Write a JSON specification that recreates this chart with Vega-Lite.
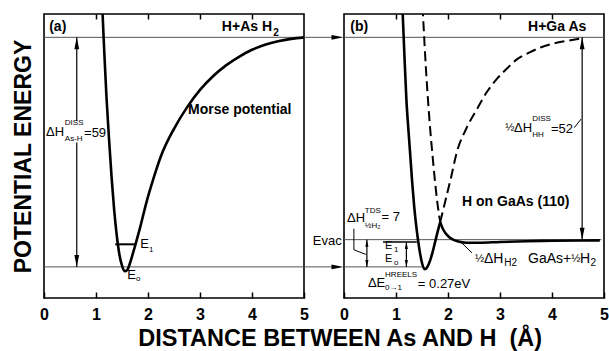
{
  "$schema": "https://vega.github.io/schema/vega-lite/v6.json",
  "background": "white",
  "padding": {"left": 11, "top": 12, "right": 0, "bottom": 0},
  "bounds": "flush",
  "spacing": 40,
  "title": {"text": "DISTANCE BETWEEN As AND H \u00a0(Å)", "orient": "bottom", "anchor": "middle", "font": "Liberation Sans", "fontSize": 23.5, "fontWeight": "bold", "color": "black", "offset": 4, "dx": 30},
  "config": {"view": {"stroke": "black", "strokeWidth": 1.6}},
  "datasets": {
    "curves": [
      {"panel": "a", "curve": "a_morse", "x": 1.12, "y": 67}, {"panel": "a", "curve": "a_morse", "x": 1.16, "y": 55}, {"panel": "a", "curve": "a_morse", "x": 1.2, "y": 44}, {"panel": "a", "curve": "a_morse", "x": 1.25, "y": 33}, {"panel": "a", "curve": "a_morse", "x": 1.3, "y": 23}, {"panel": "a", "curve": "a_morse", "x": 1.35, "y": 14.5}, {"panel": "a", "curve": "a_morse", "x": 1.4, "y": 8}, {"panel": "a", "curve": "a_morse", "x": 1.45, "y": 3.2}, {"panel": "a", "curve": "a_morse", "x": 1.5, "y": 0.3}, {"panel": "a", "curve": "a_morse", "x": 1.55, "y": -1.1}, {"panel": "a", "curve": "a_morse", "x": 1.6, "y": -0.8}, {"panel": "a", "curve": "a_morse", "x": 1.65, "y": 0.8}, {"panel": "a", "curve": "a_morse", "x": 1.7, "y": 3.0}, {"panel": "a", "curve": "a_morse", "x": 1.76, "y": 5.8}, {"panel": "a", "curve": "a_morse", "x": 1.85, "y": 10.2}, {"panel": "a", "curve": "a_morse", "x": 1.97, "y": 16.6}, {"panel": "a", "curve": "a_morse", "x": 2.1, "y": 22.5}, {"panel": "a", "curve": "a_morse", "x": 2.25, "y": 28.5}, {"panel": "a", "curve": "a_morse", "x": 2.5, "y": 35.5}, {"panel": "a", "curve": "a_morse", "x": 2.75, "y": 41}, {"panel": "a", "curve": "a_morse", "x": 3.0, "y": 45.5}, {"panel": "a", "curve": "a_morse", "x": 3.25, "y": 49}, {"panel": "a", "curve": "a_morse", "x": 3.5, "y": 51.8}, {"panel": "a", "curve": "a_morse", "x": 3.75, "y": 54}, {"panel": "a", "curve": "a_morse", "x": 4.0, "y": 55.8}, {"panel": "a", "curve": "a_morse", "x": 4.25, "y": 57.1}, {"panel": "a", "curve": "a_morse", "x": 4.5, "y": 58}, {"panel": "a", "curve": "a_morse", "x": 4.75, "y": 58.6}, {"panel": "a", "curve": "a_morse", "x": 5.0, "y": 59},
      {"panel": "b", "curve": "b_well", "x": 1.12, "y": 68}, {"panel": "b", "curve": "b_well", "x": 1.16, "y": 55}, {"panel": "b", "curve": "b_well", "x": 1.2, "y": 43}, {"panel": "b", "curve": "b_well", "x": 1.24, "y": 35}, {"panel": "b", "curve": "b_well", "x": 1.27, "y": 29.5}, {"panel": "b", "curve": "b_well", "x": 1.31, "y": 22}, {"panel": "b", "curve": "b_well", "x": 1.35, "y": 15.5}, {"panel": "b", "curve": "b_well", "x": 1.4, "y": 9.3}, {"panel": "b", "curve": "b_well", "x": 1.45, "y": 4.5}, {"panel": "b", "curve": "b_well", "x": 1.5, "y": 1.0}, {"panel": "b", "curve": "b_well", "x": 1.55, "y": -0.6}, {"panel": "b", "curve": "b_well", "x": 1.6, "y": -0.1}, {"panel": "b", "curve": "b_well", "x": 1.65, "y": 1.4}, {"panel": "b", "curve": "b_well", "x": 1.7, "y": 3.6}, {"panel": "b", "curve": "b_well", "x": 1.75, "y": 6.3}, {"panel": "b", "curve": "b_well", "x": 1.8, "y": 9.0}, {"panel": "b", "curve": "b_well", "x": 1.85, "y": 11.5},
      {"panel": "b", "curve": "b_tail", "x": 1.85, "y": 11.5}, {"panel": "b", "curve": "b_tail", "x": 1.9, "y": 9.8}, {"panel": "b", "curve": "b_tail", "x": 1.95, "y": 8.7}, {"panel": "b", "curve": "b_tail", "x": 2.02, "y": 7.7}, {"panel": "b", "curve": "b_tail", "x": 2.1, "y": 7.0}, {"panel": "b", "curve": "b_tail", "x": 2.2, "y": 6.5}, {"panel": "b", "curve": "b_tail", "x": 2.35, "y": 6.2}, {"panel": "b", "curve": "b_tail", "x": 2.6, "y": 6.2}, {"panel": "b", "curve": "b_tail", "x": 3.0, "y": 6.4}, {"panel": "b", "curve": "b_tail", "x": 3.5, "y": 6.6}, {"panel": "b", "curve": "b_tail", "x": 4.0, "y": 6.7}, {"panel": "b", "curve": "b_tail", "x": 4.92, "y": 6.8},
      {"panel": "b", "curve": "b_hh_left", "x": 1.51, "y": 67}, {"panel": "b", "curve": "b_hh_left", "x": 1.53, "y": 62}, {"panel": "b", "curve": "b_hh_left", "x": 1.55, "y": 57}, {"panel": "b", "curve": "b_hh_left", "x": 1.58, "y": 50}, {"panel": "b", "curve": "b_hh_left", "x": 1.62, "y": 42}, {"panel": "b", "curve": "b_hh_left", "x": 1.66, "y": 35}, {"panel": "b", "curve": "b_hh_left", "x": 1.7, "y": 29}, {"panel": "b", "curve": "b_hh_left", "x": 1.75, "y": 22}, {"panel": "b", "curve": "b_hh_left", "x": 1.8, "y": 16}, {"panel": "b", "curve": "b_hh_left", "x": 1.85, "y": 11.5},
      {"panel": "b", "curve": "b_hh_right", "x": 1.85, "y": 11.5}, {"panel": "b", "curve": "b_hh_right", "x": 1.95, "y": 17}, {"panel": "b", "curve": "b_hh_right", "x": 2.05, "y": 22.5}, {"panel": "b", "curve": "b_hh_right", "x": 2.17, "y": 29.5}, {"panel": "b", "curve": "b_hh_right", "x": 2.35, "y": 35.5}, {"panel": "b", "curve": "b_hh_right", "x": 2.56, "y": 40.6}, {"panel": "b", "curve": "b_hh_right", "x": 2.75, "y": 45}, {"panel": "b", "curve": "b_hh_right", "x": 2.94, "y": 48.3}, {"panel": "b", "curve": "b_hh_right", "x": 3.15, "y": 51.2}, {"panel": "b", "curve": "b_hh_right", "x": 3.33, "y": 53.4}, {"panel": "b", "curve": "b_hh_right", "x": 3.55, "y": 55}, {"panel": "b", "curve": "b_hh_right", "x": 3.78, "y": 56.4}, {"panel": "b", "curve": "b_hh_right", "x": 4.0, "y": 57.3}, {"panel": "b", "curve": "b_hh_right", "x": 4.29, "y": 58.1}, {"panel": "b", "curve": "b_hh_right", "x": 4.55, "y": 58.7}
    ],
    "levels": [
      {"panel": "a", "x": 0, "x2": 5.62, "y": 59},
      {"panel": "a", "x": 0, "x2": 5.62, "y": 0},
      {"panel": "b", "x": 0, "x2": 5, "y": 59},
      {"panel": "b", "x": 0, "x2": 4.95, "y": 7},
      {"panel": "b", "x": 0, "x2": 1.5, "y": 0}
    ],
    "e1": [
      {"panel": "a", "x": 1.37, "x2": 1.76, "y": 5.8},
      {"panel": "b", "x": 0.75, "x2": 1.4, "y": 6.4}
    ],
    "vlines": [
      {"panel": "a", "x": 0.63, "y": 37.5, "y2": 59},
      {"panel": "a", "x": 0.63, "y": 0, "y2": 32},
      {"panel": "b", "x": 4.58, "y": 7, "y2": 59},
      {"panel": "b", "x": 0.44, "y": 0, "y2": 7},
      {"panel": "b", "x": 1.2, "y": 0, "y2": 6.4}
    ],
    "heads": [
      {"panel": "a", "x": 0.63, "y": 59, "dir": "up"},
      {"panel": "a", "x": 0.63, "y": 0, "dir": "down"},
      {"panel": "a", "x": 5.76, "y": 59, "dir": "right"},
      {"panel": "a", "x": 5.76, "y": 0, "dir": "right"},
      {"panel": "b", "x": 4.58, "y": 59, "dir": "up"},
      {"panel": "b", "x": 4.58, "y": 7, "dir": "down"}
    ],
    "smallheads": [
      {"panel": "b", "x": 0.44, "y": 7, "dir": "up"},
      {"panel": "b", "x": 0.44, "y": 0, "dir": "down"},
      {"panel": "b", "x": 1.2, "y": 6.4, "dir": "up"},
      {"panel": "b", "x": 1.2, "y": 0, "dir": "down"}
    ],
    "leaders": [
      {"panel": "b", "id": "tds", "ord": 1, "x": 0.19, "y": 9.8},
      {"panel": "b", "id": "tds", "ord": 2, "x": 0.19, "y": 4.4},
      {"panel": "b", "id": "tds", "ord": 3, "x": 0.42, "y": 3.2},
      {"panel": "b", "id": "hh", "ord": 1, "x": 4.43, "y": 35.8},
      {"panel": "b", "id": "hh", "ord": 2, "x": 4.56, "y": 38.0},
      {"panel": "b", "id": "h2", "ord": 1, "x": 2.27, "y": 6.1},
      {"panel": "b", "id": "h2", "ord": 2, "x": 2.46, "y": 3.6}
    ],
    "labels": [
      {"panel": "a", "x": 0.1, "y": 61.7, "text": "(a)", "role": "head"},
      {"panel": "a", "x": 3.42, "y": 61.7, "text": "H+As H", "role": "head"},
      {"panel": "a", "x": 4.41, "y": 60.0, "text": "2", "role": "headsub"},
      {"panel": "a", "x": 2.77, "y": 40.3, "text": "Morse potential", "role": "head"},
      {"panel": "a", "x": 0.04, "y": 34.7, "text": "ΔH", "role": "note"},
      {"panel": "a", "x": 0.4, "y": 37.0, "text": "DISS", "role": "small"},
      {"panel": "a", "x": 0.4, "y": 32.8, "text": "As-H", "role": "small"},
      {"panel": "a", "x": 0.77, "y": 34.4, "text": "=59", "role": "note"},
      {"panel": "a", "x": 1.85, "y": 5.8, "text": "E", "role": "note"},
      {"panel": "a", "x": 2.02, "y": 4.4, "text": "1", "role": "small"},
      {"panel": "a", "x": 1.6, "y": -2.1, "text": "E", "role": "note"},
      {"panel": "a", "x": 1.77, "y": -3.0, "text": "o", "role": "small"},
      {"panel": "b", "x": 0.12, "y": 61.7, "text": "(b)", "role": "head"},
      {"panel": "b", "x": 3.54, "y": 61.7, "text": "H+Ga As", "role": "head"},
      {"panel": "b", "x": 2.27, "y": 16.7, "text": "H on GaAs (110)", "role": "head"},
      {"panel": "b", "x": 3.1, "y": 35.6, "text": "½", "role": "frac"},
      {"panel": "b", "x": 3.27, "y": 35.6, "text": "ΔH", "role": "note"},
      {"panel": "b", "x": 3.62, "y": 37.9, "text": "DISS", "role": "small"},
      {"panel": "b", "x": 3.62, "y": 33.8, "text": "HH", "role": "small"},
      {"panel": "b", "x": 3.98, "y": 35.4, "text": "=52", "role": "note"},
      {"panel": "b", "x": -0.6, "y": 6.7, "text": "Evac", "role": "note"},
      {"panel": "b", "x": 0.06, "y": 12.6, "text": "ΔH", "role": "note"},
      {"panel": "b", "x": 0.4, "y": 14.4, "text": "TDS", "role": "small"},
      {"panel": "b", "x": 0.4, "y": 10.4, "text": "½H₂", "role": "small"},
      {"panel": "b", "x": 0.72, "y": 12.7, "text": "= 7", "role": "note"},
      {"panel": "b", "x": 0.79, "y": 5.3, "text": "E", "role": "lvl"},
      {"panel": "b", "x": 0.96, "y": 4.4, "text": "1", "role": "small"},
      {"panel": "b", "x": 0.79, "y": 1.9, "text": "E", "role": "lvl"},
      {"panel": "b", "x": 0.96, "y": 1.0, "text": "o", "role": "small"},
      {"panel": "b", "x": 0.46, "y": -4.1, "text": "ΔE", "role": "note"},
      {"panel": "b", "x": 0.79, "y": -2.0, "text": "HREELS", "role": "small"},
      {"panel": "b", "x": 0.79, "y": -5.5, "text": "0→1", "role": "small"},
      {"panel": "b", "x": 1.42, "y": -4.4, "text": "= 0.27eV", "role": "note"},
      {"panel": "b", "x": 2.52, "y": 2.0, "text": "½", "role": "frac"},
      {"panel": "b", "x": 2.69, "y": 2.0, "text": "ΔH", "role": "eq"},
      {"panel": "b", "x": 3.08, "y": 0.9, "text": "H2", "role": "eqsub"},
      {"panel": "b", "x": 3.54, "y": 2.0, "text": "GaAs+", "role": "eq"},
      {"panel": "b", "x": 4.37, "y": 2.0, "text": "½", "role": "frac"},
      {"panel": "b", "x": 4.54, "y": 2.0, "text": "H", "role": "eq"},
      {"panel": "b", "x": 4.74, "y": 0.9, "text": "2", "role": "eqsub"}
    ]
  },
  "hconcat": [
    {
      "width": 260, "height": 284,
      "resolve": {"axis": {"x": "independent", "y": "independent"}},
      "layer": [
        {"data": {"name": "levels"}, "transform": [{"filter": "datum.panel == 'a'"}],
         "mark": {"type": "rule", "stroke": "#555", "strokeWidth": 1},
         "encoding": {
           "x": {"field": "x", "type": "quantitative", "scale": {"domain": [0, 5], "nice": false, "zero": false},
                 "axis": {"orient": "bottom", "values": [0, 1, 2, 3, 4, 5], "format": "d", "title": null, "grid": false, "domain": false, "tickSize": -6, "tickWidth": 1.5, "tickColor": "black", "labelFont": "Liberation Sans", "labelFontSize": 16, "labelFontWeight": "bold", "labelColor": "black", "labelPadding": 14, "labelFlush": false, "labelOverlap": false}},
           "x2": {"field": "x2"},
           "y": {"field": "y", "type": "quantitative", "scale": {"domain": [-8, 65], "nice": false, "zero": false},
                 "axis": {"orient": "left", "title": "POTENTIAL ENERGY", "titleFont": "Liberation Sans", "titleFontSize": 23, "titleFontWeight": "bold", "titleColor": "black", "titlePadding": 9, "labels": false, "ticks": false, "domain": false, "grid": false}}
         }},
        {"data": {"name": "e1"}, "transform": [{"filter": "datum.panel == 'a'"}],
         "mark": {"type": "rule", "stroke": "black", "strokeWidth": 2},
         "encoding": {
           "x": {"field": "x", "type": "quantitative", "scale": {"domain": [0, 5], "nice": false, "zero": false},
                 "axis": {"orient": "top", "values": [1, 2, 3, 4], "title": null, "grid": false, "domain": false, "labels": false, "tickSize": -5, "tickWidth": 1.5, "tickColor": "black"}},
           "x2": {"field": "x2"},
           "y": {"field": "y", "type": "quantitative", "scale": {"domain": [-8, 65], "nice": false, "zero": false}, "axis": null}
         }},
        {"data": {"name": "vlines"}, "transform": [{"filter": "datum.panel == 'a'"}],
         "mark": {"type": "rule", "stroke": "black", "strokeWidth": 1.2},
         "encoding": {
           "x": {"field": "x", "type": "quantitative", "scale": {"domain": [0, 5], "nice": false, "zero": false}, "axis": null},
           "y": {"field": "y", "type": "quantitative", "scale": {"domain": [-8, 65], "nice": false, "zero": false}, "axis": null},
           "y2": {"field": "y2"}
         }},
        {"data": {"name": "curves"}, "transform": [{"filter": "datum.panel == 'a'"}],
         "mark": {"type": "line", "stroke": "black", "strokeWidth": 2.6, "interpolate": "monotone", "clip": true},
         "encoding": {
           "x": {"field": "x", "type": "quantitative", "scale": {"domain": [0, 5], "nice": false, "zero": false}, "axis": null},
           "y": {"field": "y", "type": "quantitative", "scale": {"domain": [-8, 65], "nice": false, "zero": false}, "axis": null},
           "detail": {"field": "curve"}
         }},
        {"data": {"name": "heads"}, "transform": [{"filter": "datum.panel == 'a' && datum.dir == 'up'"}],
         "mark": {"type": "point", "shape": "M0,0L0.4,2L-0.4,2Z", "size": 144, "filled": true, "color": "black", "strokeWidth": 0, "opacity": 1},
         "encoding": {
           "x": {"field": "x", "type": "quantitative", "scale": {"domain": [0, 5], "nice": false, "zero": false}, "axis": null},
           "y": {"field": "y", "type": "quantitative", "scale": {"domain": [-8, 65], "nice": false, "zero": false}, "axis": null}
         }},
        {"data": {"name": "heads"}, "transform": [{"filter": "datum.panel == 'a' && datum.dir == 'down'"}],
         "mark": {"type": "point", "shape": "M0,0L0.4,-2L-0.4,-2Z", "size": 144, "filled": true, "color": "black", "strokeWidth": 0, "opacity": 1},
         "encoding": {
           "x": {"field": "x", "type": "quantitative", "scale": {"domain": [0, 5], "nice": false, "zero": false}, "axis": null},
           "y": {"field": "y", "type": "quantitative", "scale": {"domain": [-8, 65], "nice": false, "zero": false}, "axis": null}
         }},
        {"data": {"name": "heads"}, "transform": [{"filter": "datum.panel == 'a' && datum.dir == 'right'"}],
         "mark": {"type": "point", "shape": "M0,0L-2,0.4L-2,-0.4Z", "size": 144, "filled": true, "color": "black", "strokeWidth": 0, "opacity": 1},
         "encoding": {
           "x": {"field": "x", "type": "quantitative", "scale": {"domain": [0, 5], "nice": false, "zero": false}, "axis": null},
           "y": {"field": "y", "type": "quantitative", "scale": {"domain": [-8, 65], "nice": false, "zero": false}, "axis": null}
         }},
        {"data": {"name": "labels"}, "transform": [{"filter": "datum.panel == 'a' && datum.role == 'head'"}],
         "mark": {"type": "text", "align": "left", "baseline": "middle", "font": "Liberation Sans", "fontSize": 14, "fontWeight": "bold", "fill": "black"},
         "encoding": {
           "x": {"field": "x", "type": "quantitative", "scale": {"domain": [0, 5], "nice": false, "zero": false}, "axis": null},
           "y": {"field": "y", "type": "quantitative", "scale": {"domain": [-8, 65], "nice": false, "zero": false}, "axis": null},
           "text": {"field": "text"}
         }},
        {"data": {"name": "labels"}, "transform": [{"filter": "datum.panel == 'a' && datum.role == 'headsub'"}],
         "mark": {"type": "text", "align": "left", "baseline": "middle", "font": "Liberation Sans", "fontSize": 10, "fontWeight": "bold", "fill": "black"},
         "encoding": {
           "x": {"field": "x", "type": "quantitative", "scale": {"domain": [0, 5], "nice": false, "zero": false}, "axis": null},
           "y": {"field": "y", "type": "quantitative", "scale": {"domain": [-8, 65], "nice": false, "zero": false}, "axis": null},
           "text": {"field": "text"}
         }},
        {"data": {"name": "labels"}, "transform": [{"filter": "datum.panel == 'a' && datum.role == 'note'"}],
         "mark": {"type": "text", "align": "left", "baseline": "middle", "font": "Liberation Sans", "fontSize": 13, "fill": "black"},
         "encoding": {
           "x": {"field": "x", "type": "quantitative", "scale": {"domain": [0, 5], "nice": false, "zero": false}, "axis": null},
           "y": {"field": "y", "type": "quantitative", "scale": {"domain": [-8, 65], "nice": false, "zero": false}, "axis": null},
           "text": {"field": "text"}
         }},
        {"data": {"name": "labels"}, "transform": [{"filter": "datum.panel == 'a' && datum.role == 'small'"}],
         "mark": {"type": "text", "align": "left", "baseline": "middle", "font": "Liberation Sans", "fontSize": 8, "fill": "black"},
         "encoding": {
           "x": {"field": "x", "type": "quantitative", "scale": {"domain": [0, 5], "nice": false, "zero": false}, "axis": null},
           "y": {"field": "y", "type": "quantitative", "scale": {"domain": [-8, 65], "nice": false, "zero": false}, "axis": null},
           "text": {"field": "text"}
         }}
      ]
    },
    {
      "width": 260, "height": 284,
      "resolve": {"axis": {"x": "independent", "y": "independent"}},
      "layer": [
        {"data": {"name": "levels"}, "transform": [{"filter": "datum.panel == 'b'"}],
         "mark": {"type": "rule", "stroke": "#555", "strokeWidth": 1},
         "encoding": {
           "x": {"field": "x", "type": "quantitative", "scale": {"domain": [0, 5], "nice": false, "zero": false},
                 "axis": {"orient": "bottom", "values": [0, 1, 2, 3, 4, 5], "format": "d", "title": null, "grid": false, "domain": false, "tickSize": -6, "tickWidth": 1.5, "tickColor": "black", "labelFont": "Liberation Sans", "labelFontSize": 16, "labelFontWeight": "bold", "labelColor": "black", "labelPadding": 14, "labelFlush": false, "labelOverlap": false}},
           "x2": {"field": "x2"},
           "y": {"field": "y", "type": "quantitative", "scale": {"domain": [-8, 65], "nice": false, "zero": false}, "axis": null}
         }},
        {"data": {"name": "e1"}, "transform": [{"filter": "datum.panel == 'b'"}],
         "mark": {"type": "rule", "stroke": "black", "strokeWidth": 1.3},
         "encoding": {
           "x": {"field": "x", "type": "quantitative", "scale": {"domain": [0, 5], "nice": false, "zero": false},
                 "axis": {"orient": "top", "values": [1, 2, 3, 4], "title": null, "grid": false, "domain": false, "labels": false, "tickSize": -5, "tickWidth": 1.5, "tickColor": "black"}},
           "x2": {"field": "x2"},
           "y": {"field": "y", "type": "quantitative", "scale": {"domain": [-8, 65], "nice": false, "zero": false}, "axis": null}
         }},
        {"data": {"name": "vlines"}, "transform": [{"filter": "datum.panel == 'b'"}],
         "mark": {"type": "rule", "stroke": "black", "strokeWidth": 1.2},
         "encoding": {
           "x": {"field": "x", "type": "quantitative", "scale": {"domain": [0, 5], "nice": false, "zero": false}, "axis": null},
           "y": {"field": "y", "type": "quantitative", "scale": {"domain": [-8, 65], "nice": false, "zero": false}, "axis": null},
           "y2": {"field": "y2"}
         }},
        {"data": {"name": "leaders"}, "transform": [{"filter": "datum.panel == 'b'"}],
         "mark": {"type": "line", "stroke": "black", "strokeWidth": 1},
         "encoding": {
           "x": {"field": "x", "type": "quantitative", "scale": {"domain": [0, 5], "nice": false, "zero": false}, "axis": null},
           "y": {"field": "y", "type": "quantitative", "scale": {"domain": [-8, 65], "nice": false, "zero": false}, "axis": null},
           "detail": {"field": "id"},
           "order": {"field": "ord", "type": "quantitative"}
         }},
        {"data": {"name": "curves"}, "transform": [{"filter": "datum.curve == 'b_well' || datum.curve == 'b_tail'"}],
         "mark": {"type": "line", "stroke": "black", "strokeWidth": 2.6, "interpolate": "monotone", "clip": true},
         "encoding": {
           "x": {"field": "x", "type": "quantitative", "scale": {"domain": [0, 5], "nice": false, "zero": false}, "axis": null},
           "y": {"field": "y", "type": "quantitative", "scale": {"domain": [-8, 65], "nice": false, "zero": false}, "axis": null},
           "detail": {"field": "curve"}
         }},
        {"data": {"name": "curves"}, "transform": [{"filter": "datum.curve == 'b_hh_left' || datum.curve == 'b_hh_right'"}],
         "mark": {"type": "line", "stroke": "black", "strokeWidth": 2, "strokeDash": [10, 5], "interpolate": "monotone", "clip": true},
         "encoding": {
           "x": {"field": "x", "type": "quantitative", "scale": {"domain": [0, 5], "nice": false, "zero": false}, "axis": null},
           "y": {"field": "y", "type": "quantitative", "scale": {"domain": [-8, 65], "nice": false, "zero": false}, "axis": null},
           "detail": {"field": "curve"}
         }},
        {"data": {"name": "heads"}, "transform": [{"filter": "datum.panel == 'b' && datum.dir == 'up'"}],
         "mark": {"type": "point", "shape": "M0,0L0.4,2L-0.4,2Z", "size": 144, "filled": true, "color": "black", "strokeWidth": 0, "opacity": 1},
         "encoding": {
           "x": {"field": "x", "type": "quantitative", "scale": {"domain": [0, 5], "nice": false, "zero": false}, "axis": null},
           "y": {"field": "y", "type": "quantitative", "scale": {"domain": [-8, 65], "nice": false, "zero": false}, "axis": null}
         }},
        {"data": {"name": "heads"}, "transform": [{"filter": "datum.panel == 'b' && datum.dir == 'down'"}],
         "mark": {"type": "point", "shape": "M0,0L0.4,-2L-0.4,-2Z", "size": 144, "filled": true, "color": "black", "strokeWidth": 0, "opacity": 1},
         "encoding": {
           "x": {"field": "x", "type": "quantitative", "scale": {"domain": [0, 5], "nice": false, "zero": false}, "axis": null},
           "y": {"field": "y", "type": "quantitative", "scale": {"domain": [-8, 65], "nice": false, "zero": false}, "axis": null}
         }},
        {"data": {"name": "smallheads"}, "transform": [{"filter": "datum.dir == 'up'"}],
         "mark": {"type": "point", "shape": "M0,0L0.45,2L-0.45,2Z", "size": 49, "filled": true, "color": "black", "strokeWidth": 0, "opacity": 1},
         "encoding": {
           "x": {"field": "x", "type": "quantitative", "scale": {"domain": [0, 5], "nice": false, "zero": false}, "axis": null},
           "y": {"field": "y", "type": "quantitative", "scale": {"domain": [-8, 65], "nice": false, "zero": false}, "axis": null}
         }},
        {"data": {"name": "smallheads"}, "transform": [{"filter": "datum.dir == 'down'"}],
         "mark": {"type": "point", "shape": "M0,0L0.45,-2L-0.45,-2Z", "size": 49, "filled": true, "color": "black", "strokeWidth": 0, "opacity": 1},
         "encoding": {
           "x": {"field": "x", "type": "quantitative", "scale": {"domain": [0, 5], "nice": false, "zero": false}, "axis": null},
           "y": {"field": "y", "type": "quantitative", "scale": {"domain": [-8, 65], "nice": false, "zero": false}, "axis": null}
         }},
        {"data": {"name": "labels"}, "transform": [{"filter": "datum.panel == 'b' && datum.role == 'head'"}],
         "mark": {"type": "text", "align": "left", "baseline": "middle", "font": "Liberation Sans", "fontSize": 14, "fontWeight": "bold", "fill": "black"},
         "encoding": {
           "x": {"field": "x", "type": "quantitative", "scale": {"domain": [0, 5], "nice": false, "zero": false}, "axis": null},
           "y": {"field": "y", "type": "quantitative", "scale": {"domain": [-8, 65], "nice": false, "zero": false}, "axis": null},
           "text": {"field": "text"}
         }},
        {"data": {"name": "labels"}, "transform": [{"filter": "datum.panel == 'b' && datum.role == 'note'"}],
         "mark": {"type": "text", "align": "left", "baseline": "middle", "font": "Liberation Sans", "fontSize": 13, "fill": "black"},
         "encoding": {
           "x": {"field": "x", "type": "quantitative", "scale": {"domain": [0, 5], "nice": false, "zero": false}, "axis": null},
           "y": {"field": "y", "type": "quantitative", "scale": {"domain": [-8, 65], "nice": false, "zero": false}, "axis": null},
           "text": {"field": "text"}
         }},
        {"data": {"name": "labels"}, "transform": [{"filter": "datum.panel == 'b' && datum.role == 'lvl'"}],
         "mark": {"type": "text", "align": "left", "baseline": "middle", "font": "Liberation Sans", "fontSize": 11, "fill": "black"},
         "encoding": {
           "x": {"field": "x", "type": "quantitative", "scale": {"domain": [0, 5], "nice": false, "zero": false}, "axis": null},
           "y": {"field": "y", "type": "quantitative", "scale": {"domain": [-8, 65], "nice": false, "zero": false}, "axis": null},
           "text": {"field": "text"}
         }},
        {"data": {"name": "labels"}, "transform": [{"filter": "datum.panel == 'b' && datum.role == 'small'"}],
         "mark": {"type": "text", "align": "left", "baseline": "middle", "font": "Liberation Sans", "fontSize": 8, "fill": "black"},
         "encoding": {
           "x": {"field": "x", "type": "quantitative", "scale": {"domain": [0, 5], "nice": false, "zero": false}, "axis": null},
           "y": {"field": "y", "type": "quantitative", "scale": {"domain": [-8, 65], "nice": false, "zero": false}, "axis": null},
           "text": {"field": "text"}
         }},
        {"data": {"name": "labels"}, "transform": [{"filter": "datum.panel == 'b' && datum.role == 'frac'"}],
         "mark": {"type": "text", "align": "left", "baseline": "middle", "font": "Liberation Sans", "fontSize": 11, "fill": "black"},
         "encoding": {
           "x": {"field": "x", "type": "quantitative", "scale": {"domain": [0, 5], "nice": false, "zero": false}, "axis": null},
           "y": {"field": "y", "type": "quantitative", "scale": {"domain": [-8, 65], "nice": false, "zero": false}, "axis": null},
           "text": {"field": "text"}
         }},
        {"data": {"name": "labels"}, "transform": [{"filter": "datum.panel == 'b' && datum.role == 'eq'"}],
         "mark": {"type": "text", "align": "left", "baseline": "middle", "font": "Liberation Sans", "fontSize": 14, "fill": "black"},
         "encoding": {
           "x": {"field": "x", "type": "quantitative", "scale": {"domain": [0, 5], "nice": false, "zero": false}, "axis": null},
           "y": {"field": "y", "type": "quantitative", "scale": {"domain": [-8, 65], "nice": false, "zero": false}, "axis": null},
           "text": {"field": "text"}
         }},
        {"data": {"name": "labels"}, "transform": [{"filter": "datum.panel == 'b' && datum.role == 'eqsub'"}],
         "mark": {"type": "text", "align": "left", "baseline": "middle", "font": "Liberation Sans", "fontSize": 10, "fill": "black"},
         "encoding": {
           "x": {"field": "x", "type": "quantitative", "scale": {"domain": [0, 5], "nice": false, "zero": false}, "axis": null},
           "y": {"field": "y", "type": "quantitative", "scale": {"domain": [-8, 65], "nice": false, "zero": false}, "axis": null},
           "text": {"field": "text"}
         }}
      ]
    }
  ]
}
